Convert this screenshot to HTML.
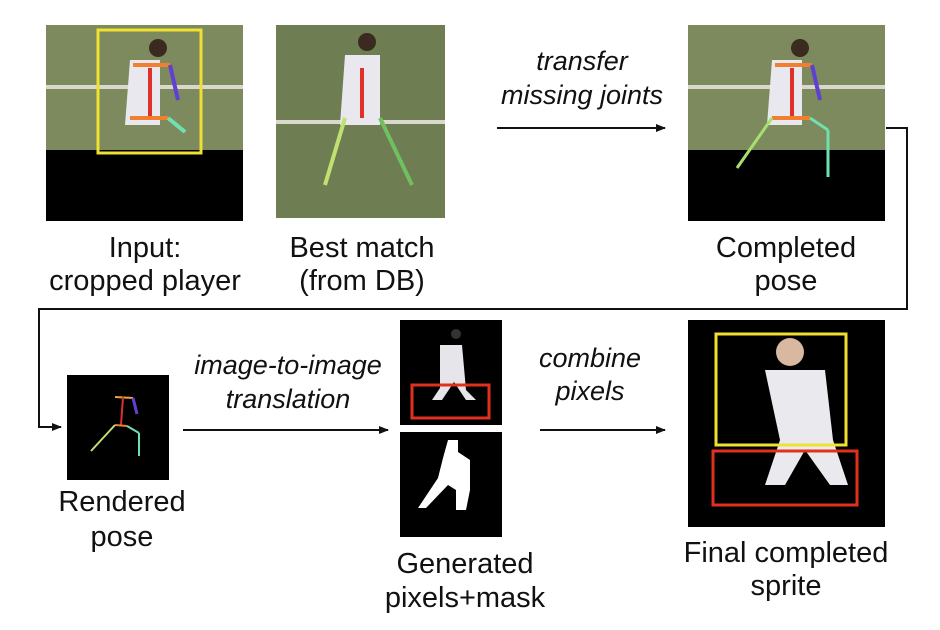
<!DOCTYPE html>
<html><head><meta charset="utf-8"><style>
html,body{margin:0;padding:0;background:#fff;width:940px;height:630px;overflow:hidden}
svg{display:block}
text{font-family:"Liberation Sans",sans-serif;fill:#111}
.l{font-size:29px}
.i{font-size:27px;font-style:italic}
</style></head><body>
<svg width="940" height="630" viewBox="0 0 940 630" xmlns="http://www.w3.org/2000/svg">
<defs><marker id="a" markerWidth="10" markerHeight="8" refX="9" refY="4" orient="auto" markerUnits="userSpaceOnUse"><path d="M0,0 L10,4 L0,8 z" fill="#111"/></marker></defs>
<rect x="46" y="25" width="197" height="125" fill="#7d8a5e"/>
<rect x="46" y="85" width="197" height="4" fill="#d8d8cc"/>
<rect x="46" y="150" width="197" height="71" fill="#000"/>
<path d="M130,60 h30 v65 h-35 z" fill="#e8e8ee"/>
<circle cx="158" cy="48" r="9" fill="#3a2a20"/>
<line x1="150" y1="68" x2="150" y2="118" stroke="#e0302a" stroke-width="4"/>
<line x1="133" y1="65" x2="170" y2="65" stroke="#f08030" stroke-width="4"/>
<line x1="170" y1="65" x2="178" y2="100" stroke="#6040d0" stroke-width="4"/>
<line x1="130" y1="118" x2="168" y2="118" stroke="#f08030" stroke-width="4"/>
<line x1="168" y1="118" x2="185" y2="132" stroke="#70e0b0" stroke-width="4"/>
<rect x="98" y="30" width="103" height="123" fill="none" stroke="#f0e030" stroke-width="3"/>
<rect x="276" y="25" width="169" height="193" fill="#6f7d52"/>
<rect x="276" y="120" width="169" height="4" fill="#d8d8cc"/>
<path d="M345,55 h35 v70 h-40 z" fill="#e8e8ee"/>
<circle cx="367" cy="42" r="9" fill="#3a2a20"/>
<line x1="362" y1="68" x2="362" y2="118" stroke="#e0302a" stroke-width="4"/>
<line x1="345" y1="118" x2="325" y2="185" stroke="#c0e070" stroke-width="4"/>
<line x1="380" y1="118" x2="412" y2="185" stroke="#70c060" stroke-width="4"/>
<text class="i" x="582" y="70" text-anchor="middle">transfer</text>
<text class="i" x="582" y="104" text-anchor="middle">missing joints</text>
<line x1="497" y1="128" x2="665" y2="128" stroke="#111" stroke-width="2" marker-end="url(#a)"/>
<rect x="688" y="25" width="197" height="125" fill="#7d8a5e"/>
<rect x="688" y="85" width="197" height="4" fill="#d8d8cc"/>
<rect x="688" y="150" width="197" height="71" fill="#000"/>
<path d="M772,60 h30 v65 h-35 z" fill="#e8e8ee"/>
<circle cx="800" cy="48" r="9" fill="#3a2a20"/>
<line x1="792" y1="68" x2="792" y2="118" stroke="#e0302a" stroke-width="4"/>
<line x1="775" y1="65" x2="812" y2="65" stroke="#f08030" stroke-width="4"/>
<line x1="812" y1="65" x2="820" y2="100" stroke="#6040d0" stroke-width="4"/>
<line x1="772" y1="118" x2="810" y2="118" stroke="#f08030" stroke-width="4"/>
<line x1="772" y1="118" x2="737" y2="168" stroke="#a8e070" stroke-width="3"/>
<line x1="810" y1="118" x2="828" y2="130" stroke="#70e0b0" stroke-width="3"/>
<line x1="828" y1="130" x2="828" y2="177" stroke="#70e0b0" stroke-width="3"/>
<text class="l" x="145" y="257" text-anchor="middle">Input:</text>
<text class="l" x="145" y="290" text-anchor="middle">cropped player</text>
<text class="l" x="362" y="257" text-anchor="middle">Best match</text>
<text class="l" x="362" y="290" text-anchor="middle">(from DB)</text>
<text class="l" x="786" y="257" text-anchor="middle">Completed</text>
<text class="l" x="786" y="290" text-anchor="middle">pose</text>
<polyline points="886,128 907,128 907,309 39,309 39,427 61,427" fill="none" stroke="#111" stroke-width="2" marker-end="url(#a)"/>
<rect x="67" y="375" width="102" height="105" fill="#000"/>
<line x1="115" y1="397" x2="133" y2="398" stroke="#f0a040" stroke-width="2"/>
<line x1="123" y1="397" x2="121" y2="425" stroke="#e0302a" stroke-width="2"/>
<line x1="133" y1="398" x2="137" y2="414" stroke="#6040d0" stroke-width="3"/>
<line x1="115" y1="425" x2="127" y2="426" stroke="#f08030" stroke-width="2"/>
<line x1="115" y1="425" x2="91" y2="451" stroke="#c0e070" stroke-width="2"/>
<line x1="127" y1="426" x2="139" y2="433" stroke="#70e0b0" stroke-width="2"/>
<line x1="139" y1="433" x2="139" y2="456" stroke="#70e0b0" stroke-width="2"/>
<text class="l" x="122" y="511" text-anchor="middle">Rendered</text>
<text class="l" x="122" y="546" text-anchor="middle">pose</text>
<text class="i" x="288" y="374" text-anchor="middle">image-to-image</text>
<text class="i" x="288" y="408" text-anchor="middle">translation</text>
<line x1="183" y1="430" x2="388" y2="430" stroke="#111" stroke-width="2" marker-end="url(#a)"/>
<rect x="400" y="320" width="102" height="105" fill="#000"/>
<path d="M440,345 h22 l4,45 l10,10 h-10 l-12,-18 l-12,18 h-10 l8,-12 z" fill="#e6e6ea"/>
<circle cx="456" cy="334" r="5" fill="#333"/>
<rect x="412" y="385" width="77" height="33" fill="none" stroke="#e0301e" stroke-width="3"/>
<rect x="400" y="432" width="102" height="105" fill="#000"/>
<path d="M448,440 h10 v12 l12,8 v30 l-4,20 h-10 v-20 l-8,-5 l-22,23 h-8 l20,-30 l5,-20 z" fill="#fff"/>
<text class="l" x="465" y="573" text-anchor="middle">Generated</text>
<text class="l" x="465" y="607" text-anchor="middle">pixels+mask</text>
<text class="i" x="590" y="367" text-anchor="middle">combine</text>
<text class="i" x="590" y="400" text-anchor="middle">pixels</text>
<line x1="540" y1="430" x2="665" y2="430" stroke="#111" stroke-width="2" marker-end="url(#a)"/>
<rect x="688" y="320" width="197" height="207" fill="#000"/>
<path d="M765,370 h60 l8,70 l15,45 h-18 l-25,-35 l-20,35 h-20 l15,-45 z" fill="#eaeaee"/>
<circle cx="790" cy="352" r="14" fill="#d8b8a0"/>
<rect x="716" y="334" width="130" height="111" fill="none" stroke="#f0e030" stroke-width="3"/>
<rect x="713" y="451" width="144" height="54" fill="none" stroke="#e0301e" stroke-width="3"/>
<text class="l" x="786" y="562" text-anchor="middle">Final completed</text>
<text class="l" x="786" y="595" text-anchor="middle">sprite</text>
</svg>
</body></html>
